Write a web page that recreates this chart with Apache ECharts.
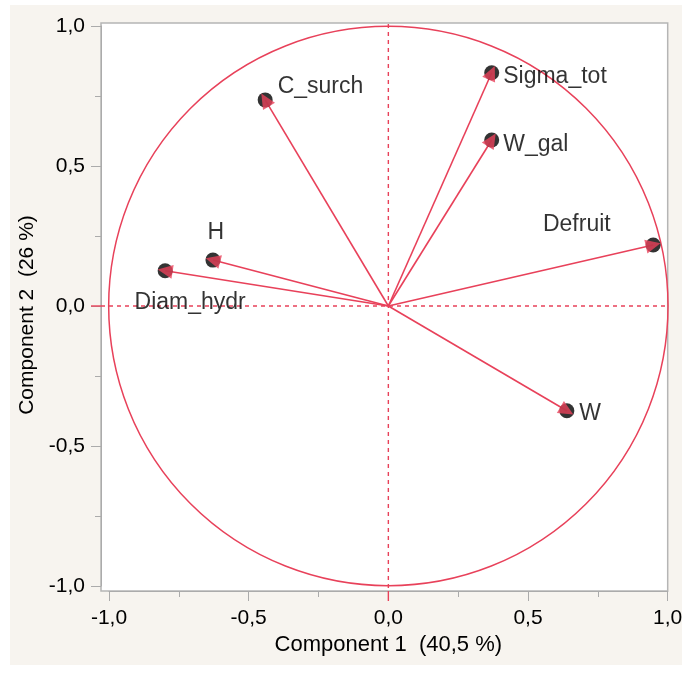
<!DOCTYPE html>
<html>
<head>
<meta charset="utf-8">
<script src="https://cdn.jsdelivr.net/npm/echarts@6/dist/echarts.min.js"></script>
<style>
html,body{margin:0;padding:0;background:#ffffff;}
#chart{width:686px;height:675px;}
</style>
</head>
<body>
<div id="chart"></div>
<script>
// ---- data ----
const variables = ['C_surch', 'Sigma_tot', 'W_gal', 'Defruit', 'H', 'Diam_hydr', 'W'];
const component1 = [-0.441, 0.370, 0.370, 0.948, -0.628, -0.799, 0.639];
const component2 = [0.736, 0.833, 0.593, 0.218, 0.164, 0.126, -0.374];
const axisTicks = [-1.0, -0.5, 0.0, 0.5, 1.0];
const xAxisTitle = 'Component 1  (40,5 %)';
const yAxisTitle = 'Component 2  (26 %)';
const unitCircle = [[0, 0, 1]]; // centre x, centre y, radius

// ---- style ----
const RED = '#e8415a';
const FONT = '"Liberation Sans", Arial, Helvetica, sans-serif';
const FRAME = { x: 101, y: 23, w: 566.7, h: 568 };
const labelPlace = {
  'C_surch':   { position: 'right', offset: [0, -13] },
  'Sigma_tot': { position: 'right', offset: [-1, 4] },
  'W_gal':     { position: 'right', offset: [-1, 5] },
  'Defruit':   { position: 'left',  offset: [-30, -20] },
  'H':         { position: 'top',   offset: [3, -3] },
  'Diam_hydr': { position: 'bottom', offset: [25, 8] },
  'W':         { position: 'right', offset: [0, 3] }
};
const fmt = v => v.toFixed(1).replace('.', ',');

const chart = echarts.init(document.getElementById('chart'), null, { renderer: 'canvas' });

const axisCommon = {
  type: 'value',
  min: axisTicks[0],
  max: axisTicks[axisTicks.length - 1],
  interval: 0.5,
  splitLine: { show: false },
  axisLine: { show: true, onZero: false, lineStyle: { color: '#ababab', width: 1 } },
  axisTick: { show: true, length: 10, lineStyle: { color: '#ababab', width: 1 } },
  minorTick: { show: true, splitNumber: 2, length: 6, lineStyle: { color: '#ababab', width: 1 } },
  nameLocation: 'middle'
};

const option = {
  backgroundColor: '#ffffff',
  animation: false,
  graphic: [
    { type: 'rect', z: -100, silent: true, shape: { x: 10, y: 5, width: 672, height: 660 }, style: { fill: '#f7f4ef' } },
    { type: 'rect', z: -99, silent: true, shape: { x: FRAME.x, y: FRAME.y, width: FRAME.w, height: FRAME.h }, style: { fill: '#ffffff', stroke: '#b5b5b5', lineWidth: 1.5 } }
  ],
  grid: { left: 109, right: 18.3, top: 26, bottom: 89, containLabel: false },
  xAxis: Object.assign({}, axisCommon, {
    offset: 5,
    name: xAxisTitle,
    nameGap: 39,
    nameTextStyle: { fontFamily: FONT, fontSize: 22, color: '#000' },
    axisLabel: { formatter: fmt, margin: 17, fontFamily: FONT, fontSize: 21, color: '#000' }
  }),
  yAxis: Object.assign({}, axisCommon, {
    offset: 8,
    name: yAxisTitle,
    nameGap: 52,
    nameRotate: 90,
    nameTextStyle: { fontFamily: FONT, fontSize: 21, color: '#000', padding: [0, 18, 0, 0] },
    axisLabel: { formatter: fmt, margin: 16, fontFamily: FONT, fontSize: 21, color: '#000' }
  }),
  series: [
    {
      type: 'custom',
      silent: true,
      z: 1,
      clip: false,
      data: unitCircle,
      renderItem: function (params, api) {
        const c = api.coord([api.value(0), api.value(1)]);
        const rx = api.size([api.value(2), 0])[0];
        const ry = api.size([0, api.value(2)])[1];
        const dash = { stroke: RED, lineWidth: 1.4, lineDash: [4, 4] };
        const solid = { stroke: RED, lineWidth: 1.4 };
        const bottom = FRAME.y + FRAME.h;
        return {
          type: 'group',
          children: [
            { type: 'circle', shape: { cx: c[0], cy: c[1], r: (rx + ry) / 2 }, style: { fill: 'none', stroke: RED, lineWidth: 1.5 } },
            { type: 'line', shape: { x1: c[0], y1: FRAME.y + 1, x2: c[0], y2: bottom }, style: dash },
            { type: 'line', shape: { x1: FRAME.x, y1: c[1], x2: FRAME.x + FRAME.w, y2: c[1] }, style: dash },
            { type: 'line', shape: { x1: c[0], y1: bottom, x2: c[0], y2: bottom + 10 }, style: solid },
            { type: 'line', shape: { x1: FRAME.x - 10, y1: c[1], x2: FRAME.x, y2: c[1] }, style: solid }
          ]
        };
      }
    },
    {
      type: 'lines',
      coordinateSystem: 'cartesian2d',
      z: 2,
      symbol: ['none', 'none'],
      lineStyle: { color: RED, width: 1.6, opacity: 1, curveness: 0 },
      data: variables.map((v, i) => ({ coords: [[0, 0], [component1[i], component2[i]]] }))
    },
    {
      type: 'scatter',
      z: 3,
      symbol: 'circle',
      symbolSize: 15,
      itemStyle: { color: '#000000' },
      data: variables.map((v, i) => ({
        name: v,
        value: [component1[i], component2[i]],
        label: {
          show: true,
          formatter: v,
          position: labelPlace[v].position,
          offset: labelPlace[v].offset,
          fontFamily: FONT,
          fontSize: 23,
          color: '#000'
        }
      }))
    },
    {
      type: 'scatter',
      z: 4,
      silent: true,
      symbol: 'triangle',
      symbolSize: [14, 15],
      itemStyle: { color: RED },
      data: variables.map((v, i) => ({
        value: [component1[i], component2[i]],
        symbolRotate: Math.atan2(component2[i], component1[i]) * 180 / Math.PI - 90
      }))
    }
  ]
};
chart.setOption(option);
</script>
</body>
</html>
